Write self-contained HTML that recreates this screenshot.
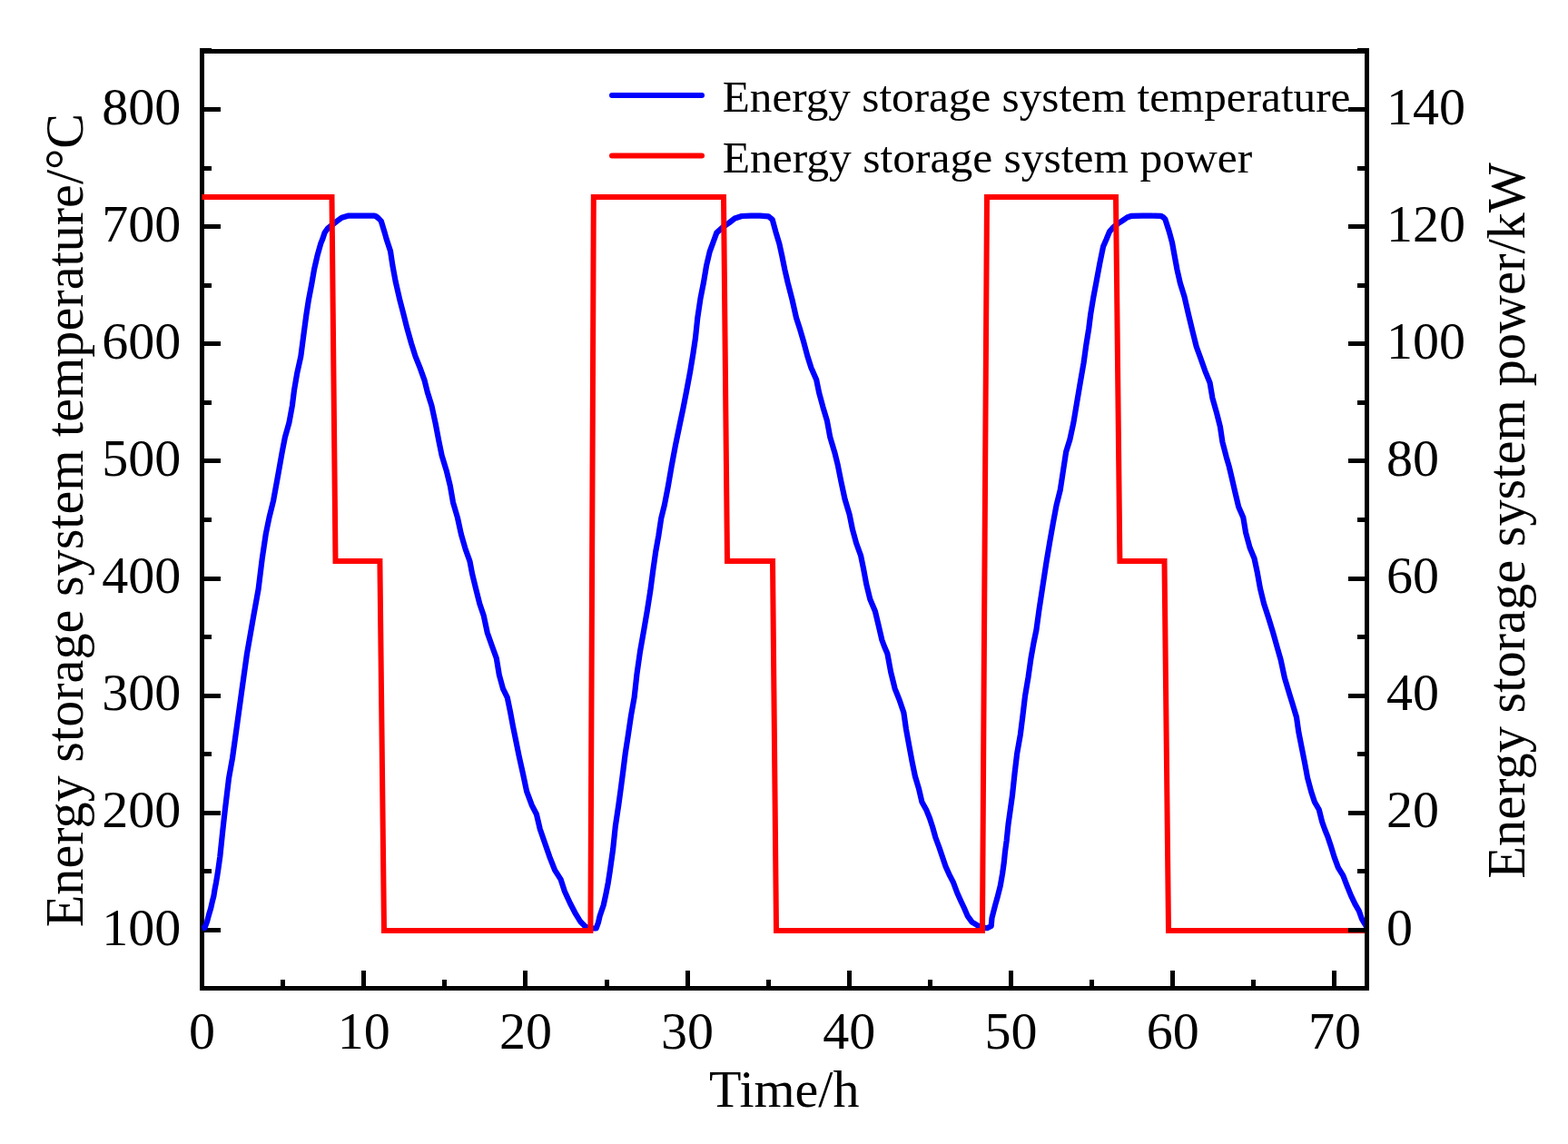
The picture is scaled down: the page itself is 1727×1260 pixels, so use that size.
<!DOCTYPE html>
<html><head><meta charset="utf-8"><style>
html,body{margin:0;padding:0;background:#fff;}
svg{display:block;}
text{font-family:"Liberation Serif","Times New Roman",serif;fill:#000;}
</style></head><body>
<svg width="1727" height="1260" viewBox="0 0 1727 1260">
<rect width="1727" height="1260" fill="#fff"/>
<clipPath id="c"><rect x="219" y="59" width="1284" height="1027"/></clipPath>
<g stroke="#000" stroke-width="5" fill="none" shape-rendering="crispEdges">
<path d="M222.5,54V1091M220,56.5H1508M220,1088.5H1508"/>
<path d="M220,1024.50H243 M220,895.36H243 M220,766.21H243 M220,637.07H243 M220,507.93H243 M220,378.79H243 M220,249.64H243 M220,120.50H243 M220,959.93H233 M220,830.79H233 M220,701.64H233 M220,572.50H233 M220,443.36H233 M220,314.22H233 M220,185.07H233 M220,55.93H233 M400.70,1091V1069 M578.90,1091V1069 M757.10,1091V1069 M935.30,1091V1069 M1113.50,1091V1069 M1291.70,1091V1069 M1469.90,1091V1069 M311.60,1091V1079 M489.80,1091V1079 M668.00,1091V1079 M846.20,1091V1079 M1024.40,1091V1079 M1202.60,1091V1079 M1380.80,1091V1079"/>
</g>
<g clip-path="url(#c)" fill="none" stroke-linejoin="round">
<polyline points="222.5,1022.6 225.5,1021.8 228.1,1015.0 229.9,1008.0 232.1,1000.7 233.7,993.6 235.5,986.4 236.6,979.3 238.0,972.1 239.2,965.0 240.3,957.9 241.3,950.7 242.3,943.6 245.1,916.7 247.5,895.0 249.7,876.7 252.1,856.7 256.0,835.0 261.8,793.3 266.4,760.0 272.0,720.0 279.0,680.0 284.6,648.9 288.7,615.6 292.8,588.0 296.5,570.0 301.1,551.4 306.3,522.9 310.8,497.5 313.9,481.6 318.4,465.7 321.9,446.7 324.1,429.2 327.1,411.7 331.3,392.7 334.7,366.7 337.4,346.5 339.9,330.3 343.3,312.7 346.1,296.5 349.5,281.7 353.3,268.2 355.4,263.0 357.6,256.3 361.0,251.5 365.5,248.0 371.2,243.6 376.4,239.8 384.0,237.6 388.4,237.7 395.2,237.7 403.3,237.7 412.5,237.7 414.5,238.5 417.0,240.5 419.8,243.5 423.9,257.0 425.8,263.8 430.0,276.5 432.4,292.4 435.6,309.8 440.0,328.9 444.1,344.8 448.5,362.2 453.0,378.1 457.5,392.4 462.6,405.1 467.7,419.4 470.8,432.0 475.4,446.7 479.7,466.7 483.2,485.0 486.6,501.7 491.7,518.3 495.8,535.0 499.0,553.3 503.9,570.0 507.9,588.3 512.7,605.0 517.5,618.3 520.1,632.0 524.5,650.0 528.3,665.0 532.8,678.3 536.7,696.7 542.0,711.7 546.8,725.0 549.8,743.3 553.9,758.3 558.8,768.3 561.9,783.3 565.0,800.0 568.4,816.7 571.5,832.0 575.9,851.7 580.1,871.7 585.7,886.7 590.9,896.7 594.8,913.3 600.0,928.3 605.2,943.3 611.1,958.3 617.5,968.3 621.9,981.7 628.0,995.0 634.1,1006.7 639.2,1015.0 645.0,1020.8 650.0,1022.5 656.7,1022.5 659.0,1016.0 660.6,1009.0 664.7,997.0 667.4,984.6 669.8,972.3 671.7,960.0 675.2,935.0 677.8,910.0 681.3,886.7 683.8,868.3 686.2,850.0 688.7,830.0 691.8,810.0 695.0,788.3 698.6,768.3 701.5,742.1 705.0,717.6 709.3,693.2 712.9,672.2 716.2,651.3 719.2,628.6 722.2,607.6 725.3,590.2 728.2,571.0 731.9,556.0 735.8,535.9 739.7,513.3 743.9,490.7 748.6,468.0 752.4,449.9 756.2,430.3 759.9,410.7 763.4,389.6 766.0,372.0 768.3,350.0 771.5,328.6 774.9,311.4 778.0,292.9 781.7,277.1 785.9,265.7 789.3,256.4 795.7,250.5 802.9,245.5 809.3,240.5 817.1,238.0 827.1,237.7 837.1,237.7 846.5,238.3 850.7,241.8 854.4,255.3 858.4,268.6 861.2,281.4 864.4,297.1 867.6,311.0 872.5,330.0 877.0,350.0 881.3,363.3 885.2,376.7 889.2,391.7 893.4,405.0 899.2,418.3 902.3,433.3 906.4,448.3 910.9,463.3 914.3,481.7 919.3,498.3 922.7,512.0 926.3,530.0 930.6,550.0 935.6,566.7 939.0,583.3 943.1,598.3 948.0,611.7 951.1,626.7 954.2,643.3 958.3,660.0 963.9,673.3 967.9,690.0 971.4,705.0 974.0,712.0 977.4,720.0 981.1,740.0 985.6,758.3 990.9,771.7 995.4,785.0 998.0,803.3 1001.4,821.7 1004.8,840.0 1007.9,855.0 1011.9,868.3 1015.4,883.3 1020.1,891.7 1023.9,901.0 1027.2,911.1 1030.3,922.2 1034.4,933.3 1038.2,944.4 1041.6,954.4 1046.1,964.4 1050.1,972.2 1054.2,983.3 1058.2,992.2 1061.9,1000.0 1065.7,1008.9 1070.6,1015.6 1076.1,1018.9 1081.0,1021.5 1087.2,1022.2 1091.7,1020.0 1092.5,1011.0 1096.1,997.0 1098.4,988.9 1101.8,975.6 1104.1,962.2 1105.8,950.0 1106.9,938.9 1108.7,925.6 1110.5,908.0 1114.9,876.8 1117.5,852.4 1120.2,829.7 1123.9,808.7 1126.5,787.8 1129.0,766.8 1132.5,745.9 1135.5,724.9 1138.6,707.5 1141.4,694.0 1144.4,672.1 1148.4,645.9 1152.4,619.7 1156.2,597.0 1159.9,576.0 1163.5,556.8 1167.8,539.4 1171.0,518.4 1174.2,497.5 1178.4,484.0 1182.3,465.9 1186.1,443.3 1189.9,420.7 1193.6,399.5 1196.3,379.9 1199.2,362.0 1201.2,346.0 1204.2,328.0 1207.4,311.0 1211.3,290.0 1215.1,271.4 1218.6,263.5 1221.9,255.3 1226.0,250.5 1231.0,246.5 1236.9,242.6 1241.4,239.5 1246.4,237.8 1258.6,237.7 1268.6,237.7 1278.5,237.8 1281.5,239.5 1283.4,241.6 1287.8,255.3 1291.0,267.1 1293.6,281.4 1296.5,297.1 1299.9,312.0 1304.5,326.7 1309.1,346.7 1313.5,365.0 1317.7,381.7 1322.5,395.0 1327.2,408.3 1332.6,421.7 1335.4,438.3 1340.1,455.0 1343.9,470.0 1346.4,486.7 1350.7,503.3 1353.8,514.0 1356.8,526.7 1360.6,543.3 1364.2,558.3 1369.3,570.0 1372.1,586.7 1376.6,603.3 1381.5,615.0 1384.7,630.0 1388.0,648.3 1392.1,665.0 1397.0,680.0 1402.1,696.7 1407.0,714.0 1410.6,726.7 1414.9,746.7 1419.9,763.3 1424.0,776.7 1428.0,790.0 1430.4,806.7 1433.7,823.3 1437.0,840.0 1440.1,856.7 1444.1,871.7 1447.9,883.3 1452.8,891.7 1456.1,905.0 1459.3,914.0 1462.6,922.2 1466.3,933.3 1469.7,944.4 1473.9,955.6 1479.3,964.4 1483.6,975.6 1488.1,986.7 1492.4,995.6 1496.8,1003.3 1500.0,1012.2 1503.3,1017.8 1507.0,1024.0" stroke="#00f" stroke-width="6.2"/>
<polyline points="222.5,217.0 365.5,217.0 369.5,618.0 418.4,618.0 423.0,1025.0 650.4,1025.0 653.8,217.0 797.0,217.0 801.0,618.0 851.0,618.0 855.0,1025.0 1082.0,1025.0 1087.0,217.0 1229.0,217.0 1233.4,618.0 1282.5,618.0 1287.0,1025.0 1505.5,1025.0" stroke="#f00" stroke-width="6" stroke-linejoin="miter"/>
</g>
<g stroke="#000" stroke-width="5" fill="none" shape-rendering="crispEdges">
<path d="M1505.5,54V1091"/>
<path d="M1508,1024.50H1485 M1508,895.36H1485 M1508,766.21H1485 M1508,637.07H1485 M1508,507.93H1485 M1508,378.79H1485 M1508,249.64H1485 M1508,120.50H1485 M1508,959.93H1495 M1508,830.79H1495 M1508,701.64H1495 M1508,572.50H1495 M1508,443.36H1495 M1508,314.22H1495 M1508,185.07H1495 M1508,55.93H1495"/>
</g>
<g font-size="58"><text x="199.3" y="1040.5" text-anchor="end">100</text><text x="199.3" y="911.4" text-anchor="end">200</text><text x="199.3" y="782.2" text-anchor="end">300</text><text x="199.3" y="653.1" text-anchor="end">400</text><text x="199.3" y="523.9" text-anchor="end">500</text><text x="199.3" y="394.8" text-anchor="end">600</text><text x="199.3" y="265.6" text-anchor="end">700</text><text x="199.3" y="136.5" text-anchor="end">800</text><text x="1527" y="1040.5">0</text><text x="1527" y="911.4">20</text><text x="1527" y="782.2">40</text><text x="1527" y="653.1">60</text><text x="1527" y="523.9">80</text><text x="1527" y="394.8">100</text><text x="1527" y="265.6">120</text><text x="1527" y="136.5">140</text><text x="222.5" y="1155" text-anchor="middle">0</text><text x="400.7" y="1155" text-anchor="middle">10</text><text x="578.9" y="1155" text-anchor="middle">20</text><text x="757.1" y="1155" text-anchor="middle">30</text><text x="935.3" y="1155" text-anchor="middle">40</text><text x="1113.5" y="1155" text-anchor="middle">50</text><text x="1291.7" y="1155" text-anchor="middle">60</text><text x="1469.9" y="1155" text-anchor="middle">70</text></g>
<text x="781" y="1218.8" font-size="58">Time/h</text>
<text transform="translate(90.5,1021.2) rotate(-90)" font-size="58.2">Energy storage system temperature/°C</text>
<text transform="translate(1679.3,967.7) rotate(-90)" font-size="58.4">Energy storage system power/kW</text>
<g stroke-width="6" stroke-linecap="round">
<line x1="674" y1="105" x2="773" y2="105" stroke="#00f"/>
<line x1="674" y1="171.6" x2="773" y2="171.6" stroke="#f00"/>
</g>
<g font-size="49.2">
<text x="795.8" y="123.4">Energy storage system temperature</text>
<text x="795.8" y="190.4" font-size="49.5">Energy storage system power</text>
</g>
</svg>
</body></html>
